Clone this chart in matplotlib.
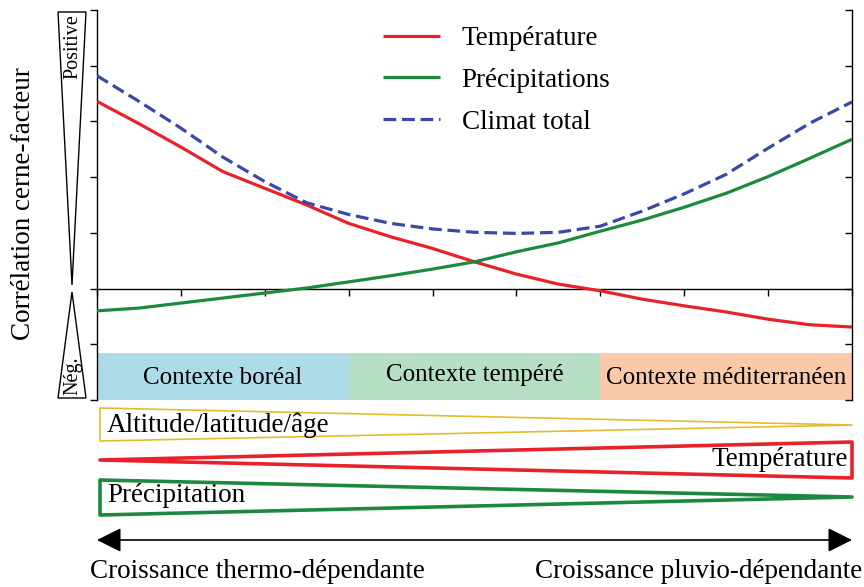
import matplotlib
matplotlib.use("Agg")
import matplotlib.pyplot as plt
from matplotlib.patches import Polygon

plt.rcParams['font.family'] = ['Liberation Serif', 'DejaVu Serif']

# ---- data ----
x_pos = [0, 0.5, 1, 1.5, 2, 2.5, 3, 3.5, 4, 4.5, 5, 5.5, 6, 6.5, 7, 7.5, 8, 8.5, 9]
temperature = [3.36, 2.96, 2.54, 2.10, 1.80, 1.50, 1.17, 0.93, 0.72, 0.48, 0.26, 0.08,
               -0.04, -0.19, -0.31, -0.42, -0.55, -0.65, -0.69]
precipitations = [-0.40, -0.35, -0.26, -0.17, -0.08, 0.01, 0.12, 0.23, 0.35, 0.48, 0.66,
                  0.82, 1.03, 1.23, 1.46, 1.71, 2.01, 2.34, 2.68]
climat_total = [3.82, 3.36, 2.88, 2.36, 1.92, 1.54, 1.33, 1.17, 1.07, 1.01, 0.99, 1.01,
                1.12, 1.39, 1.70, 2.05, 2.52, 2.97, 3.35]
series_labels = ['Température', 'Précipitations', 'Climat total']

contexts = ['Contexte boréal', 'Contexte tempéré', 'Contexte méditerranéen']
context_start = [0, 3, 6]
context_width = [3, 3, 3]
context_colors = ['#aedbe8', '#b5dec4', '#f9c9aa']

RED = '#e8222b'
GREEN = '#1b8a3e'
BLUE = '#3a48a6'
GOLD = '#e2bc2c'
FS = 19.5

fig = plt.figure(figsize=(8.64, 5.87), dpi=100)
W, H = 864, 587
ax = fig.add_axes([97 / W, 1 - 400 / H, 755 / W, 390 / H])
ax.set_xlim(0, 9)
ax.set_ylim(-2, 5)

# context bands
band_bottom, band_top = -2, -1.15
ax.bar(context_start, [band_top - band_bottom] * 3, width=context_width, bottom=band_bottom,
       align='edge', color=context_colors, linewidth=0, zorder=1)
for s, w, lab, dy in zip(context_start, context_width, contexts, [-1.6, -1.55, -1.6]):
    ax.text(s + w / 2, dy, lab, ha='center', va='center', fontsize=18, zorder=2)

# curves
ax.plot(x_pos, temperature, color=RED, lw=2.3, label=series_labels[0], zorder=3,
        solid_capstyle='butt', solid_joinstyle='round')
ax.plot(x_pos, precipitations, color=GREEN, lw=2.3, label=series_labels[1], zorder=3,
        solid_capstyle='butt', solid_joinstyle='round')
ax.plot(x_pos, climat_total, color=BLUE, lw=2.3, ls=(0, (4, 1.8)), label=series_labels[2],
        zorder=3)

# axes styling
ax.spines['top'].set_visible(False)
ax.spines['right'].set_visible(False)
ax.spines['bottom'].set_position(('data', 0))
for sp in ['left', 'bottom']:
    ax.spines[sp].set_linewidth(1.0)
ax.set_xticks(range(0, 10))
ax.set_yticks(range(-2, 6))
ax.tick_params(axis='x', direction='out', length=5, width=1.0, labelbottom=False)
ax.tick_params(axis='y', direction='out', length=5, width=1.0, labelleft=False)
ax.patch.set_visible(False)

axr = ax.twinx()
axr.set_ylim(-2, 5)
axr.set_yticks(range(-2, 6))
axr.tick_params(axis='y', direction='in', length=5, width=1.0, labelright=False)
for sp in ['top', 'bottom', 'left']:
    axr.spines[sp].set_visible(False)
axr.spines['right'].set_linewidth(1.0)
axr.patch.set_visible(False)

leg = ax.legend(loc='upper left', bbox_to_anchor=(383 / W, 1 - 26 / H),
                bbox_transform=fig.transFigure, frameon=False, fontsize=FS,
                handlelength=2.1, handletextpad=0.8, labelspacing=0.62,
                borderpad=0, borderaxespad=0)

# ---- overlay in pixel coordinates ----
ov = fig.add_axes([0, 0, 1, 1])
ov.set_xlim(0, W)
ov.set_ylim(H, 0)
ov.axis('off')
ov.patch.set_visible(False)

# left triangles
ov.add_patch(Polygon([(58, 12), (86, 12), (72, 285)], closed=True, fill=False,
                     ec='black', lw=1.0))
ov.add_patch(Polygon([(72, 292), (86, 398), (58, 398)], closed=True, fill=False,
                     ec='black', lw=1.0))
ov.text(73, 47, 'Positive', rotation=90, ha='center', va='center', fontsize=14.5)
ov.text(73, 376, 'Nég.', rotation=90, ha='center', va='center', fontsize=14.5)
ov.text(24, 204, 'Corrélation cerne-facteur', rotation=90, ha='center', va='center',
        fontsize=FS)

# bottom wedges
ov.add_patch(Polygon([(100, 408), (852, 425), (100, 441)], closed=True, fill=False,
                     ec=GOLD, lw=1.2, joinstyle='round'))
ov.text(107, 425, 'Altitude/latitude/âge', ha='left', va='center', fontsize=FS)
ov.add_patch(Polygon([(100, 460), (852, 442), (852, 478)], closed=True, fill=False,
                     ec=RED, lw=2.6, joinstyle='round'))
ov.text(848, 460, 'Température', ha='right', va='center', fontsize=FS)
ov.add_patch(Polygon([(100, 480), (852, 497), (100, 515)], closed=True, fill=False,
                     ec=GREEN, lw=2.6, joinstyle='round'))
ov.text(107, 496, 'Précipitation', ha='left', va='center', fontsize=FS)

# double arrow
ov.annotate('', xy=(852, 540), xytext=(97, 540),
            arrowprops=dict(arrowstyle='<|-|>,head_length=1.0,head_width=0.5',
                            mutation_scale=15, lw=1.2, color='black',
                            shrinkA=0, shrinkB=0))
ov.text(90, 572, 'Croissance thermo-dépendante', ha='left', va='center', fontsize=FS)
ov.text(862, 572, 'Croissance pluvio-dépendante', ha='right', va='center', fontsize=FS)

fig.savefig('out.png', dpi=100)
